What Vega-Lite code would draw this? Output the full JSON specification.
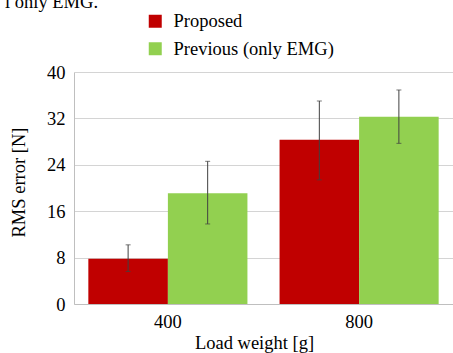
{
  "$schema": "https://vega.github.io/schema/vega-lite/v6.json",
  "width": 379,
  "height": 232,
  "autosize": "none",
  "padding": {"left": 74, "top": 72, "right": 0, "bottom": 49},
  "background": "white",
  "title": {
    "text": "l only EMG.",
    "anchor": "start",
    "frame": "group",
    "orient": "top",
    "baseline": "alphabetic",
    "offset": 0,
    "dx": -69,
    "dy": 14,
    "font": "Liberation Serif",
    "fontSize": 18.5,
    "fontWeight": "normal",
    "color": "#000000"
  },
  "config": {
    "view": {"stroke": null},
    "font": "Liberation Serif",
    "axis": {
      "labelFont": "Liberation Serif",
      "titleFont": "Liberation Serif",
      "labelFontSize": 18.5,
      "titleFontSize": 18.5,
      "labelColor": "#000000",
      "titleColor": "#000000",
      "titleFontWeight": "normal",
      "ticks": false,
      "domainColor": "#bfbfbf",
      "gridColor": "#d4d4d4"
    },
    "legend": {
      "labelFont": "Liberation Serif",
      "labelFontSize": 18.5,
      "labelColor": "#000000",
      "labelLimit": 0
    }
  },
  "data": {
    "values": [
      {"load": "400", "series": "Proposed", "rms": 7.8, "lo": 5.6, "hi": 10.2},
      {"load": "400", "series": "Previous (only EMG)", "rms": 19.1, "lo": 13.8, "hi": 24.6},
      {"load": "800", "series": "Proposed", "rms": 28.3, "lo": 21.4, "hi": 35.0},
      {"load": "800", "series": "Previous (only EMG)", "rms": 32.3, "lo": 27.7, "hi": 36.9}
    ]
  },
  "encoding": {
    "x": {
      "field": "load",
      "type": "nominal",
      "scale": {"paddingInner": 0.168, "paddingOuter": 0.075},
      "axis": {
        "title": "Load weight [g]",
        "labelAngle": 0,
        "labelPadding": 8,
        "grid": false,
        "domain": true,
        "titleX": 180,
        "titleY": 38,
        "titleBaseline": "middle"
      }
    },
    "xOffset": {
      "field": "series",
      "type": "nominal",
      "sort": ["Proposed", "Previous (only EMG)"],
      "scale": {"paddingInner": 0, "paddingOuter": 0}
    }
  },
  "layer": [
    {
      "mark": {"type": "bar"},
      "encoding": {
        "y": {
          "field": "rms",
          "type": "quantitative",
          "scale": {"domain": [0, 40], "nice": false},
          "axis": {
            "title": "RMS error [N]",
            "values": [0, 8, 16, 24, 32, 40],
            "labelPadding": 9,
            "grid": true,
            "domain": true,
            "titleX": -56,
            "titleY": 110,
            "titleBaseline": "middle"
          }
        },
        "color": {
          "field": "series",
          "type": "nominal",
          "sort": ["Proposed", "Previous (only EMG)"],
          "scale": {"domain": ["Proposed", "Previous (only EMG)"], "range": ["#c00000", "#92d050"]},
          "legend": {
            "title": null,
            "orient": "none",
            "legendX": 72,
            "legendY": -60,
            "padding": 0,
            "symbolType": "square",
            "symbolSize": 169,
            "symbolStrokeWidth": 0,
            "labelOffset": 9,
            "rowPadding": 8.5
          }
        }
      }
    },
    {
      "mark": {"type": "rule", "color": "#404040", "strokeWidth": 1},
      "encoding": {
        "y": {"field": "lo", "type": "quantitative"},
        "y2": {"field": "hi"}
      }
    },
    {
      "mark": {"type": "tick", "orient": "horizontal", "color": "#404040", "size": 5, "thickness": 1},
      "encoding": {"y": {"field": "lo", "type": "quantitative"}}
    },
    {
      "mark": {"type": "tick", "orient": "horizontal", "color": "#404040", "size": 5, "thickness": 1},
      "encoding": {"y": {"field": "hi", "type": "quantitative"}}
    }
  ]
}
